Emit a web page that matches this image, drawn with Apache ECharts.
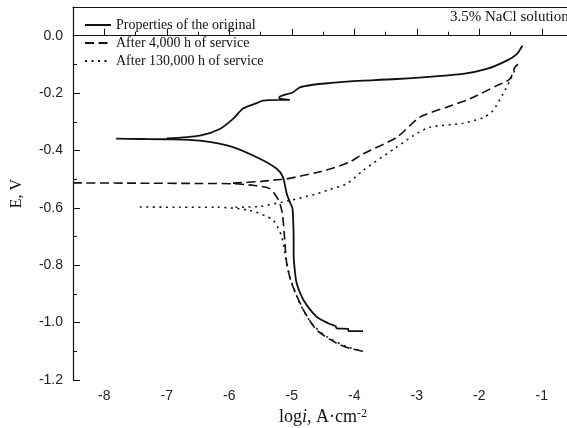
<!DOCTYPE html>
<html>
<head>
<meta charset="utf-8">
<script src="https://cdn.jsdelivr.net/npm/echarts@6/dist/echarts.min.js"></script>
<style>html,body{margin:0;padding:0;background:#fff}#c{width:567px;height:428px}</style>
</head>
<body>
<div id="c"></div>
<script>
// ---- data (logi, E) ----
const seriesNames = ['Properties of the original', 'After 4,000 h of service', 'After 130,000 h of service'];
const xMajorTicks = [-8, -7, -6, -5, -4, -3, -2, -1];
const xMinorTicks = [-8.5, -7.5, -6.5, -5.5, -4.5, -3.5, -2.5, -1.5];
const yMajorTicks = [-1.2, -1.0, -0.8, -0.6, -0.4, -0.2, 0.0];
const yMinorTicks = [-1.1, -0.9, -0.7, -0.5, -0.3, -0.1];

const origCathodic = [[-7.81,-0.359],[-7.4,-0.360],[-7.0,-0.361],[-6.47,-0.366],[-5.94,-0.388],[-5.51,-0.429],[-5.24,-0.464],[-5.14,-0.493],[-5.08,-0.551],[-5.03,-0.58],[-4.99,-0.60],[-4.98,-0.63],[-4.97,-0.70],[-4.97,-0.76],[-4.95,-0.82],[-4.92,-0.864],[-4.81,-0.922],[-4.60,-0.98],[-4.41,-1.003],[-4.30,-1.012],[-4.28,-1.02],[-4.10,-1.022],[-4.09,-1.03],[-3.86,-1.03]];
const origAnodic = [[-7.0,-0.358],[-6.47,-0.348],[-6.15,-0.325],[-5.94,-0.29],[-5.78,-0.254],[-5.56,-0.235],[-5.46,-0.226],[-5.2,-0.224],[-5.03,-0.224],[-5.2,-0.218],[-5.19,-0.212],[-4.98,-0.197],[-4.87,-0.18],[-4.66,-0.171],[-4.39,-0.165],[-4.07,-0.159],[-3.32,-0.151],[-2.26,-0.133],[-1.88,-0.116],[-1.56,-0.087],[-1.40,-0.064],[-1.31,-0.035]];

const h4000Cathodic = [[-8.5,-0.513],[-7.5,-0.514],[-6.5,-0.515],[-5.94,-0.516],[-5.6,-0.522],[-5.35,-0.533],[-5.21,-0.574],[-5.15,-0.62],[-5.12,-0.69],[-5.08,-0.794],[-5.0,-0.864],[-4.81,-0.957],[-4.60,-1.026],[-4.28,-1.072],[-4.07,-1.09],[-3.86,-1.10]];
const h4000Anodic = [[-5.94,-0.514],[-5.5,-0.508],[-5.24,-0.502],[-5.08,-0.499],[-4.60,-0.477],[-4.39,-0.465],[-4.07,-0.44],[-3.86,-0.412],[-3.32,-0.354],[-2.95,-0.284],[-2.52,-0.249],[-2.15,-0.22],[-1.72,-0.174],[-1.51,-0.151],[-1.43,-0.11],[-1.38,-0.099]];

const h130000Cathodic = [[-7.43,-0.597],[-6.8,-0.598],[-6.2,-0.598],[-5.67,-0.609],[-5.30,-0.643],[-5.16,-0.70],[-5.11,-0.759],[-5.03,-0.84],[-4.87,-0.933],[-4.68,-1.003],[-4.44,-1.049],[-4.12,-1.084],[-3.86,-1.10]];
const h130000Anodic = [[-5.9,-0.598],[-5.51,-0.595],[-5.03,-0.574],[-4.60,-0.551],[-4.39,-0.536],[-4.12,-0.516],[-3.86,-0.47],[-3.32,-0.388],[-3.05,-0.348],[-2.79,-0.319],[-2.26,-0.305],[-1.94,-0.286],[-1.78,-0.261],[-1.62,-0.203],[-1.51,-0.157],[-1.40,-0.104]];

const chart = echarts.init(document.getElementById('c'), null, {renderer: 'canvas'});
const ink = '#111';
const serif = '"Liberation Serif", "Times New Roman", serif';
const sans = '"Liberation Sans", Arial, sans-serif';
function line(name, data, type, width) {
  return {
    name: name, type: 'line', data: data, xAxisIndex: 0, yAxisIndex: 0,
    showSymbol: false, symbol: 'none', smooth: 0.25, animation: false,
    lineStyle: {color: ink, width: width, type: type},
    itemStyle: {color: ink}
  };
}
const solid = 'solid', dashed = [9, 4.5], dotted = [2, 4.5];
chart.setOption({
  animation: false,
  grid: {left: 73, top: 7, bottom: 48, right: -6, containLabel: false, outerBoundsMode: 'none'},
  legend: {
    data: seriesNames, orient: 'vertical', left: 84, top: 18, padding: 0,
    itemWidth: 26, itemHeight: 14, itemGap: 4,
    itemStyle: {opacity: 0},
    textStyle: {fontFamily: serif, fontSize: 14, color: ink}
  },
  graphic: [{type: 'text', left: 450, top: 10, style: {text: '3.5% NaCl solution', font: '15px ' + serif, fill: ink}}],
  xAxis: [
    {type: 'value', min: -8.5, max: -0.5, position: 'bottom',
     axisLine: {lineStyle: {color: ink, width: 1.2}},
     axisTick: {inside: true, length: 7, customValues: xMajorTicks, lineStyle: {color: ink}},
     axisLabel: {customValues: xMajorTicks, margin: 9, fontFamily: sans, fontSize: 14, color: '#222'},
     splitLine: {show: false},
     name: '{a|log}{i|i}{a|, A·cm}{s|-2}', nameLocation: 'middle', nameGap: 21,
     nameTextStyle: {rich: {a: {fontFamily: serif, fontSize: 18, color: ink}, i: {fontFamily: serif, fontStyle: 'italic', fontSize: 18, color: ink}, s: {fontFamily: serif, fontSize: 12, color: ink, verticalAlign: 'top', padding: [0,0,7,0]}}}
    },
    {type: 'value', min: -8.5, max: -0.5, position: 'bottom',
     axisLine: {show: false},
     axisTick: {inside: true, length: 4, customValues: xMinorTicks, lineStyle: {color: ink}},
     axisLabel: {show: false}, splitLine: {show: false}},
    {type: 'value', min: -8.5, max: -0.5, position: 'top',
     axisLine: {lineStyle: {color: ink, width: 1.2}},
     axisTick: {show: false},
     axisLabel: {show: false}, splitLine: {show: false}}
  ],
  yAxis: [
    {type: 'value', min: -1.2, max: 0.1, position: 'left',
     axisLine: {show: true, lineStyle: {color: ink, width: 1.2}},
     axisTick: {show: true, inside: true, length: 7, customValues: yMajorTicks, lineStyle: {color: ink}},
     axisLabel: {customValues: yMajorTicks, margin: 10, fontFamily: sans, fontSize: 14, color: '#222', formatter: v => v.toFixed(1)},
     splitLine: {show: false},
     name: 'E, V', nameLocation: 'middle', nameGap: 48, nameRotate: 90,
     nameTextStyle: {fontFamily: serif, fontSize: 16, color: ink}
    },
    {type: 'value', min: -1.2, max: 0.1, position: 'left',
     axisLine: {show: false},
     axisTick: {show: true, inside: true, length: 4, customValues: yMinorTicks, lineStyle: {color: ink}},
     axisLabel: {show: false}, splitLine: {show: false}}
  ],
  series: [
    line(seriesNames[0], origCathodic, solid, 1.8),
    line(seriesNames[0], origAnodic, solid, 1.8),
    line(seriesNames[1], h4000Cathodic, dashed, 1.6),
    line(seriesNames[1], h4000Anodic, dashed, 1.6),
    line(seriesNames[2], h130000Cathodic, dotted, 1.6),
    line(seriesNames[2], h130000Anodic, dotted, 1.6)
  ]
});
</script>
</body>
</html>
